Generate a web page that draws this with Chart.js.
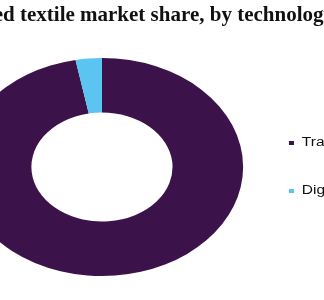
<!DOCTYPE html>
<html>
<head>
<meta charset="utf-8">
<script src="https://cdn.jsdelivr.net/npm/chart.js@4/dist/chart.umd.min.js"></script>
<style>
html, body { margin: 0; padding: 0; background: #fff; overflow: hidden; }
#share_chart { display: block; }
</style>
</head>
<body>
<canvas id="share_chart" width="324" height="300"></canvas>
<script>
var categories = ['Traditional', 'Digital'];
var shareValues = [97, 3];
var sliceColors = ['#3b1249', '#5bc4f1'];
var titleText = 'Global printed textile market share, by technology, 2019 (%)';

// the source picture is stretched sideways: ring and legend are wider than tall
var stretchX = 1.295;
var stretchOrigin = 130.2;

var stretchPlugin = {
    id: 'stretch_chart',
    beforeDraw(chart) {
        var ctx = chart.ctx;
        ctx.save();
        ctx.translate(stretchOrigin, 0);
        ctx.scale(stretchX, 1);
        ctx.translate(-stretchOrigin, 0);
    },
    afterDraw(chart) {
        chart.ctx.restore();
    }
};

// title is cut off on both sides in the reference, draw it by hand (not stretched)
var titlePlugin = {
    id: 'cut_title',
    afterDraw(chart) {
        var ctx = chart.ctx;
        ctx.save();
        ctx.font = 'bold 21px "Liberation Serif"';
        ctx.fillStyle = '#111';
        ctx.textBaseline = 'alphabetic';
        var x = 20 - ctx.measureText('Global printed ').width;
        ctx.fillText(titleText, x, 21);
        ctx.restore();
    }
};

var ctx = document.getElementById('share_chart').getContext('2d');
var chartObj = new Chart(ctx, {
    type: 'doughnut',
    data: {
        labels: categories,
        datasets: [{
            data: shareValues,
            backgroundColor: sliceColors,
            borderWidth: 0,
            clip: false
        }]
    },
    options: {
        responsive: false,
        animation: false,
        radius: 109,
        cutout: '50%',
        layout: {
            padding: { left: 0, right: 0, top: 40, bottom: 6 }
        },
        plugins: {
            legend: {
                position: 'right',
                maxWidth: 107.2,
                labels: {
                    boxWidth: 3.9,
                    boxHeight: 4,
                    padding: 36,
                    color: '#111',
                    font: { family: 'Liberation Sans', size: 12 }
                }
            },
            tooltip: { enabled: false },
            title: { display: false }
        }
    },
    plugins: [stretchPlugin, titlePlugin]
});
</script>
</body>
</html>
